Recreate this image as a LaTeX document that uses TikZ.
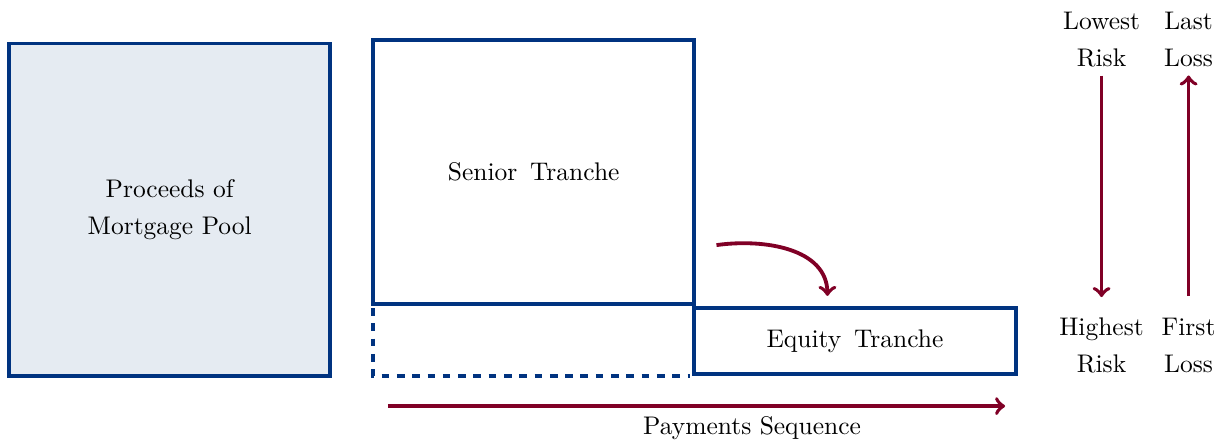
\documentclass[tikz,border=0pt]{standalone}
\usepackage{amsmath,amssymb}
\usepackage{xcolor,tikz}

\definecolor{navy}{RGB}{0,51,128}
\definecolor{wine}{RGB}{128,0,38}

\begin{document}
\begin{tikzpicture}[
	box/.style={draw=navy, line width=1.5pt, minimum width=4.43cm, inner sep=0pt, align=center},
	flow/.style={->, draw=wine, line width=1.5pt}
	]
	\useasboundingbox (0,0) rectangle (16.92,6.10);
	
	% pool and the two tranches
	\node[box, fill=navy!10, minimum height=4.58cm] (pool) at (2.34,3.21) {Proceeds of\\[2.5pt] Mortgage Pool};
	\node[box, minimum height=3.64cm] (senior) at (7.36,3.725) {Senior\,\ Tranche};
	\node[box, minimum height=0.91cm, anchor=north west] (equity) at ([xshift=-1.5pt]senior.south east) {Equity\,\ Tranche};
	\draw[navy, line width=1.5pt, dashed] ([xshift=0.75pt,yshift=-0.75pt]senior.south west) |- ([xshift=-1pt]equity.south west);
	
	% losses move down to the equity piece
	\coordinate (spill) at (9.88,2.72);
	\draw[flow] (spill) to[out=8,in=90] ([xshift=-0.38cm,yshift=4pt]equity.north);
	
	% payments run left to right
	\coordinate (pay0) at (5.35,0.50);
	\coordinate (pay1) at (13.86,0.50);
	\draw[flow] (pay0) -- node[below, pos=0.59, text=black] {Payments Sequence} (pay1);
	
	% risk and loss order
	\node[align=center] (low) at (15.19,5.56) {Lowest\\[2.5pt] Risk};
	\node[align=center] (high) at (15.19,1.34) {Highest\\[2.5pt] Risk};
	\node[align=center] (last) at (16.39,5.56) {Last\\[2.5pt] Loss};
	\node[align=center] (first) at (16.39,1.34) {First\\[2.5pt] Loss};
	\draw[flow, shorten >=4.5pt] (low) -- (high);
	\draw[flow, shorten <=5pt] (first) -- (last);
\end{tikzpicture}
\end{document}
